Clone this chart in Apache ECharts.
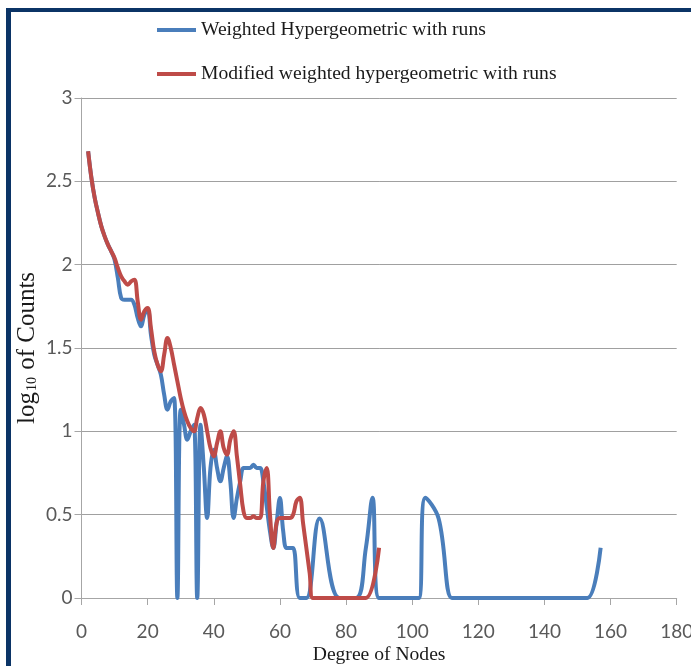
<!DOCTYPE html>
<html>
<head>
<meta charset="utf-8">
<script src="https://cdn.jsdelivr.net/npm/echarts@6/dist/echarts.min.js"></script>
<style>
html,body{margin:0;padding:0;background:#fff;}
#chart{width:691px;height:666px;}
</style>
</head>
<body>
<div id="chart"></div>
<script>
// Series names
const seriesNames = ['Weighted Hypergeometric with runs', 'Modified weighted hypergeometric with runs'];

// Weighted Hypergeometric with runs: degree -> log10(count)
const blueDegree = [2,3,4,5,6,7,8,9,10,11,12,13,14,15,16,17,18,19,20,21,22,23,24,25,26,27,28,29,30,31,32,33,34,35,36,37,38,39,40,41,42,43,44,45,46,47,48,49,50,51,52,53,54,55,56,57,58,59,60,61,62,63,64,66,68,72,78,83,86,88,90,94,96,98,100,102,104,108,112,114,120,125,130,135,140,145,150,153,157];
const blueLog = [2.68,2.52,2.40,2.31,2.23,2.17,2.12,2.08,2.03,1.92,1.80,1.79,1.79,1.79,1.76,1.68,1.63,1.70,1.73,1.58,1.46,1.40,1.34,1.22,1.13,1.18,1.20,0,1.13,1.04,0.95,1.00,1.04,0,1.04,0.78,0.48,0.78,0.89,0.78,0.70,0.78,0.85,0.70,0.48,0.60,0.70,0.78,0.78,0.78,0.80,0.78,0.78,0.70,0.55,0.40,0.30,0.45,0.60,0.40,0.30,0.30,0.30,0,0,0.477,0,0,0.30,0.602,0,0,0,0,0,0,0.602,0.477,0,0,0,0,0,0,0,0,0,0,0.301];

// Modified weighted hypergeometric with runs
const redDegree = [2,3,4,5,6,7,8,9,10,11,12,13,14,15,16,17,18,19,20,21,22,23,24,25,26,27,28,29,30,31,32,33,34,35,36,37,38,39,40,41,42,43,44,45,46,47,48,49,50,51,52,53,54,55,56,57,58,59,60,61,62,63,64,65,66,67,68,69,70,72,75,78,80,83,86,90];
const redLog = [2.68,2.52,2.40,2.31,2.23,2.17,2.12,2.08,2.04,1.98,1.93,1.90,1.88,1.90,1.91,1.78,1.67,1.72,1.74,1.62,1.48,1.40,1.36,1.46,1.56,1.50,1.40,1.30,1.20,1.12,1.06,1.02,1.00,1.08,1.14,1.10,1.00,0.90,0.85,0.93,1.00,0.90,0.86,0.95,1.00,0.85,0.68,0.52,0.48,0.48,0.49,0.48,0.48,0.70,0.78,0.50,0.30,0.45,0.48,0.48,0.48,0.48,0.50,0.58,0.602,0.45,0.30,0.15,0,0,0,0,0,0,0,0.301];

// Axis ticks
const xTicks = {min: 0, max: 180, step: 20};
const yTicks = {min: 0, max: 3, step: 0.5};

const zip = (xs, ys) => xs.map((x, i) => [x, ys[i]]);

const chart = echarts.init(document.getElementById('chart'), null, {renderer: 'canvas'});
const labelFont = 'Lato, "Open Sans", sans-serif';
const serif = '"Liberation Serif", "Times New Roman", serif';

chart.setOption({
  animation: false,
  backgroundColor: '#ffffff',
  graphic: [
    {type: 'rect', shape: {x: 6, y: 8, width: 685, height: 4}, style: {fill: '#0b3466'}, silent: true},
    {type: 'rect', shape: {x: 6, y: 8, width: 5, height: 658}, style: {fill: '#0b3466'}, silent: true}
  ],
  legend: {
    orient: 'vertical',
    left: 152,
    top: 14,
    itemGap: 22,
    itemWidth: 39,
    itemHeight: 4,
    icon: 'rect',
    textStyle: {fontFamily: serif, fontSize: 19.6, color: '#1a1a1a', lineHeight: 22},
    data: seriesNames
  },
  grid: {left: 81.5, right: 14.3, top: 98, bottom: 68, containLabel: false, outerBoundsMode: 'none'},
  xAxis: {
    type: 'value',
    min: xTicks.min, max: xTicks.max, interval: xTicks.step,
    name: 'Degree of Nodes',
    nameLocation: 'middle',
    nameGap: 47,
    nameMoveOverlap: false,
    nameTextStyle: {fontFamily: serif, fontSize: 19.6, color: '#1a1a1a'},
    axisLine: {show: true, lineStyle: {color: '#a6a6a6', width: 1}},
    axisTick: {show: true, length: 7, inside: false, lineStyle: {color: '#a6a6a6'}},
    axisLabel: {margin: 24, fontFamily: labelFont, fontSize: 19, color: '#595959'},
    splitLine: {show: false}
  },
  yAxis: {
    type: 'value',
    min: yTicks.min, max: yTicks.max, interval: yTicks.step,
    name: '{a|log}{s|10}{a| of Counts}',
    nameLocation: 'middle',
    nameRotate: 90,
    nameGap: 42,
    nameMoveOverlap: false,
    nameTextStyle: {
      rich: {
        a: {fontFamily: serif, fontSize: 25, color: '#1a1a1a', lineHeight: 24, verticalAlign: 'bottom'},
        s: {fontFamily: serif, fontSize: 14, color: '#1a1a1a', lineHeight: 14, verticalAlign: 'bottom', padding: [0, 1, 0, 1]}
      }
    },
    axisLine: {show: true, lineStyle: {color: '#a6a6a6', width: 1}},
    axisTick: {show: true, length: 7, lineStyle: {color: '#a6a6a6'}},
    axisLabel: {margin: 9, fontFamily: labelFont, fontSize: 19, color: '#595959'},
    splitLine: {show: true, lineStyle: {color: '#a0a0a0', width: 1}}
  },
  series: [
    {
      name: seriesNames[0],
      type: 'line',
      data: zip(blueDegree, blueLog),
      smooth: 0.4,
      showSymbol: false,
      symbol: 'none',
      clip: true,
      lineStyle: {color: '#4a7ebb', width: 4},
      itemStyle: {color: '#4a7ebb'},
      z: 2
    },
    {
      name: seriesNames[1],
      type: 'line',
      data: zip(redDegree, redLog),
      smooth: 0.4,
      showSymbol: false,
      symbol: 'none',
      clip: true,
      lineStyle: {color: '#be4b48', width: 4},
      itemStyle: {color: '#be4b48'},
      z: 3
    }
  ]
});
</script>
</body>
</html>
